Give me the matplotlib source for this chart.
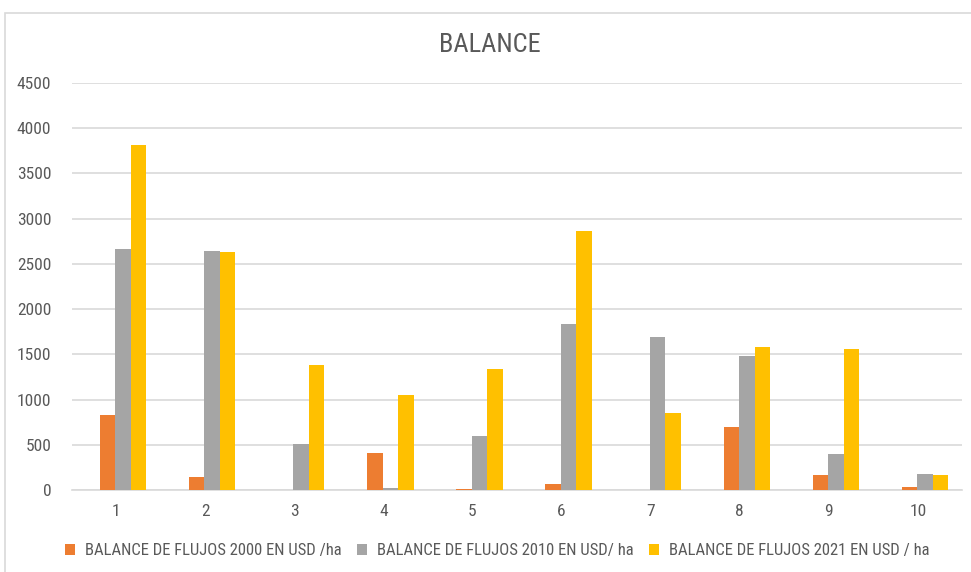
import numpy as np
import matplotlib
matplotlib.use("Agg")
import matplotlib.pyplot as plt
import matplotlib.transforms as mtransforms
from matplotlib import font_manager
from matplotlib.patches import Rectangle

# prefer a narrow sans if one is installed, else Liberation Sans
have = {f.name for f in font_manager.fontManager.ttflist}
narrow = [n for n in ['Liberation Sans Narrow', 'Roboto Condensed', 'Open Sans Condensed'] if n in have]
plt.rcParams['font.family'] = narrow + ['Liberation Sans', 'DejaVu Sans']

# data
categories = ['1', '2', '3', '4', '5', '6', '7', '8', '9', '10']
series_names = ['BALANCE DE FLUJOS 2000 EN USD /ha',
                'BALANCE DE FLUJOS 2010 EN USD/ ha',
                'BALANCE DE FLUJOS 2021 EN USD / ha']
vals_2000 = [830, 145, 0, 412, 15, 66, 0, 696, 166, 30]
vals_2010 = [2663, 2641, 508, 20, 597, 1834, 1690, 1481, 402, 175]
vals_2021 = [3815, 2630, 1381, 1050, 1337, 2862, 851, 1580, 1558, 163]
yticks = [0, 500, 1000, 1500, 2000, 2500, 3000, 3500, 4000, 4500]

colors = ['#ED7D31', '#A5A5A5', '#FFC000']
text_col = '#595959'

fig = plt.figure(figsize=(9.71, 5.72), dpi=100)
# outer chart frame
fig.patches.append(Rectangle((5 / 971, -0.05), 1.2, 1 - 13 / 572 + 0.05,
                             transform=fig.transFigure, fill=False,
                             edgecolor='#d9d9d9', linewidth=1.2))

ax = fig.add_axes([72 / 971, 1 - 490 / 572, (962 - 72) / 971, (490 - 83) / 572])

x = np.arange(len(categories))
w = 0.174
for i, (vals, name) in enumerate(zip([vals_2000, vals_2010, vals_2021], series_names)):
    ax.bar(x + (i - 1) * w, vals, width=w, color=colors[i], label=name, zorder=3)

ax.set_xlim(-0.572, len(categories) - 1 + 0.415)
ax.set_ylim(0, 4500)
ax.set_yticks(yticks)
ax.set_xticks(x)
ax.set_xticklabels(categories)
ax.grid(axis='y', color='#d9d9d9', linewidth=1.2, zorder=0)
for s in ['top', 'right', 'left']:
    ax.spines[s].set_visible(False)
ax.spines['bottom'].set_color('#d9d9d9')
ax.spines['bottom'].set_linewidth(1.2)
ax.tick_params(axis='both', length=0, colors=text_col, labelsize=12.5)
ax.tick_params(axis='y', pad=15)
ax.tick_params(axis='x', pad=10)

# category labels sit a little left of the bar groups, as in the original
shift = mtransforms.ScaledTranslation(-7 / 100, 0, fig.dpi_scale_trans)
for lab in ax.get_xticklabels():
    lab.set_transform(lab.get_transform() + shift)

fig.text(0.505, 1 - 45 / 572, 'BALANCE', ha='center', va='center',
         fontsize=19, color=text_col)

fig.legend(loc='center', bbox_to_anchor=(0.512, 1 - 551 / 572), ncol=3,
           frameon=False, fontsize=12, labelcolor=text_col,
           handlelength=0.6, handleheight=0.6, handletextpad=0.6,
           columnspacing=0.9)

fig.savefig('out.png', dpi=100, facecolor='white')
